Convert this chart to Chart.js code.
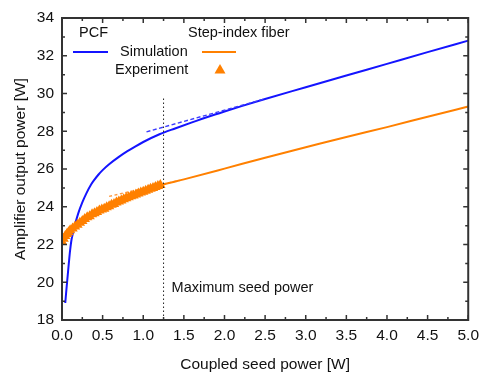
<!DOCTYPE html>
<html><head><meta charset="utf-8">
<script src="https://cdn.jsdelivr.net/npm/chart.js@4.4.1/dist/chart.umd.min.js"></script>
<style>html,body{margin:0;padding:0;background:#fff;}#wrap{width:485px;height:376px;}</style>
</head><body><div id="wrap"><canvas id="c" width="485" height="376"></canvas></div>
<script>
// ---- data ----
const pcfSimX = [0.04,0.055,0.07,0.085,0.1,0.115,0.135,0.16,0.2,0.25,0.3,0.36,0.4,0.45,0.5,0.58,0.7,0.8,0.9,1.0,1.2,1.4,1.6,1.8,2.0,2.2,2.5,3.0,3.5,4.0,4.5,5.0];
const pcfSimY = [18.9,19.65,20.35,21.05,21.7,22.2,22.62,23.06,23.65,24.23,24.71,25.19,25.44,25.71,25.94,26.25,26.64,26.93,27.19,27.43,27.84,28.16,28.47,28.77,29.05,29.32,29.71,30.33,30.95,31.57,32.19,32.8];
const sifSimX = [0.0,0.1,0.2,0.4,0.6,0.8,1.0,1.25,1.5,2.0,2.5,3.0,3.5,4.0,4.5,5.0];
const sifSimY = [22.2,22.75,23.1,23.65,24.05,24.45,24.8,25.18,25.45,26.02,26.6,27.15,27.7,28.22,28.77,29.31];
const sifExpX = [0.00,0.02,0.04,0.06,0.08,0.10,0.13,0.16,0.19,0.22,0.25,0.28,0.31,0.34,0.37,0.40,0.43,0.46,0.49,0.52,0.55,0.58,0.61,0.64,0.67,0.70,0.73,0.76,0.79,0.82,0.85,0.88,0.91,0.94,0.97,1.00,1.03,1.06,1.09,1.12,1.15,1.18,1.21];
const sifExpY = [22.15,22.3,22.45,22.55,22.65,22.75,22.85,22.95,23.05,23.15,23.25,23.35,23.45,23.5,23.6,23.65,23.72,23.8,23.85,23.9,23.97,24.03,24.1,24.15,24.22,24.28,24.33,24.4,24.45,24.5,24.55,24.6,24.65,24.7,24.75,24.8,24.85,24.9,24.95,25.0,25.05,25.1,25.15];
const pcfFitX = [1.04,2.5];
const pcfFitY = [27.97,29.72];
const sifFitX = [0.58,1.45];
const sifFitY = [24.55,25.4];
const seedLimitX = [1.25,1.25];
const seedLimitY = [18,29.8];
const xMajorTicks = [0,0.5,1,1.5,2,2.5,3,3.5,4,4.5,5];
const yMajorTicks = [18,20,22,24,26,28,30,32,34];

const FONT = "'Liberation Sans', Arial, sans-serif";
const BLUE = '#1414ff';
const ORANGE = '#ff8000';
const AXIS = '#333333';

function pts(xs, ys){ return xs.map((x,i)=>({x:x, y:ys[i]})); }

const framePlugin = {
  id: 'frame',
  afterDatasetsDraw(chart){
    const ctx = chart.ctx, a = chart.chartArea;
    const xs = chart.scales.x, ys = chart.scales.y;
    ctx.save();
    ctx.strokeStyle = AXIS;
    ctx.lineWidth = 2;
    ctx.strokeRect(a.left, a.top, a.right - a.left, a.bottom - a.top);
    ctx.lineWidth = 1.5;
    ctx.beginPath();
    for (let i = 0; i < xMajorTicks.length; i++){
      const v = xMajorTicks[i];
      const p = xs.getPixelForValue(v);
      ctx.moveTo(p, a.bottom); ctx.lineTo(p, a.bottom - 5);
      ctx.moveTo(p, a.top); ctx.lineTo(p, a.top + 5);
      if (i < xMajorTicks.length - 1){
        const m = xs.getPixelForValue((v + xMajorTicks[i+1]) / 2);
        ctx.moveTo(m, a.bottom); ctx.lineTo(m, a.bottom - 3);
        ctx.moveTo(m, a.top); ctx.lineTo(m, a.top + 3);
      }
    }
    for (let i = 0; i < yMajorTicks.length; i++){
      const v = yMajorTicks[i];
      const p = ys.getPixelForValue(v);
      ctx.moveTo(a.left, p); ctx.lineTo(a.left + 5, p);
      ctx.moveTo(a.right, p); ctx.lineTo(a.right - 5, p);
      if (i < yMajorTicks.length - 1){
        const m = ys.getPixelForValue((v + yMajorTicks[i+1]) / 2);
        ctx.moveTo(a.left, m); ctx.lineTo(a.left + 3, m);
        ctx.moveTo(a.right, m); ctx.lineTo(a.right - 3, m);
      }
    }
    ctx.stroke();

    ctx.fillStyle = '#111';
    ctx.font = '14.5px ' + FONT;
    ctx.textBaseline = 'middle';
    ctx.textAlign = 'left';
    ctx.fillText('Maximum seed power', xs.getPixelForValue(1.25) + 8, ys.getPixelForValue(19.7));

    ctx.fillText('PCF', 79, 33);
    ctx.fillText('Step-index fiber', 188, 33);
    ctx.fillText('Simulation', 120, 52);
    ctx.fillText('Experiment', 115, 70);
    ctx.lineWidth = 2;
    ctx.strokeStyle = BLUE;
    ctx.beginPath(); ctx.moveTo(73, 52); ctx.lineTo(108, 52); ctx.stroke();
    ctx.strokeStyle = ORANGE;
    ctx.beginPath(); ctx.moveTo(202, 52); ctx.lineTo(236, 52); ctx.stroke();
    ctx.fillStyle = ORANGE;
    ctx.beginPath(); ctx.moveTo(220, 64); ctx.lineTo(225.5, 73.5); ctx.lineTo(214.5, 73.5); ctx.closePath(); ctx.fill();
    ctx.restore();
  }
};

new Chart(document.getElementById('c'), {
  type: 'scatter',
  data: {
    datasets: [
      { label: 'seed limit', data: pts(seedLimitX, seedLimitY), showLine: true, borderColor: '#222', borderWidth: 1, borderDash: [1.5, 2.5], pointRadius: 0 },
      { label: 'SIF simulation', data: pts(sifSimX, sifSimY), showLine: true, borderColor: ORANGE, borderWidth: 2, pointRadius: 0, cubicInterpolationMode: 'monotone' },
      { label: 'SIF experiment', data: pts(sifExpX, sifExpY), showLine: false, pointStyle: 'triangle', pointRadius: 6, backgroundColor: ORANGE, borderColor: ORANGE, borderWidth: 0 },
      { label: 'PCF fit', data: pts(pcfFitX, pcfFitY), showLine: true, borderColor: '#3c3cff', borderWidth: 1.4, borderDash: [4, 2.5], pointRadius: 0 },
      { label: 'SIF fit', data: pts(sifFitX, sifFitY), showLine: true, borderColor: '#ff9a40', borderWidth: 1.4, borderDash: [3, 2.5], pointRadius: 0 },
      { label: 'PCF simulation', data: pts(pcfSimX, pcfSimY), showLine: true, borderColor: BLUE, borderWidth: 2, pointRadius: 0, cubicInterpolationMode: 'monotone' }
    ]
  },
  options: {
    responsive: false,
    animation: false,
    layout: { padding: { left: 0, right: 12, top: 18, bottom: 0 } },
    plugins: { legend: { display: false }, tooltip: { enabled: false } },
    scales: {
      x: {
        type: 'linear', min: 0, max: 5,
        afterFit(s){ s.height = 56; },
        grid: { display: false, drawTicks: false },
        border: { display: false },
        ticks: { stepSize: 0.5, padding: 6, color: '#111', font: { family: FONT, size: 15.5 }, callback: v => Number(v).toFixed(1), maxRotation: 0, autoSkip: false },
        title: { display: true, text: 'Coupled seed power [W]', color: '#111', font: { family: FONT, size: 15.5 }, padding: { bottom: 2, top: 0 } }
      },
      y: {
        type: 'linear', min: 18, max: 34,
        afterFit(s){ s.width = 62; },
        grid: { display: false, drawTicks: false },
        border: { display: false },
        ticks: { stepSize: 2, padding: 8, color: '#111', font: { family: FONT, size: 15.5 } },
        title: { display: true, text: 'Amplifier output power [W]', color: '#111', font: { family: FONT, size: 15.5 }, padding: { top: 11, bottom: 0 } }
      }
    }
  },
  plugins: [framePlugin]
});
</script></body></html>
